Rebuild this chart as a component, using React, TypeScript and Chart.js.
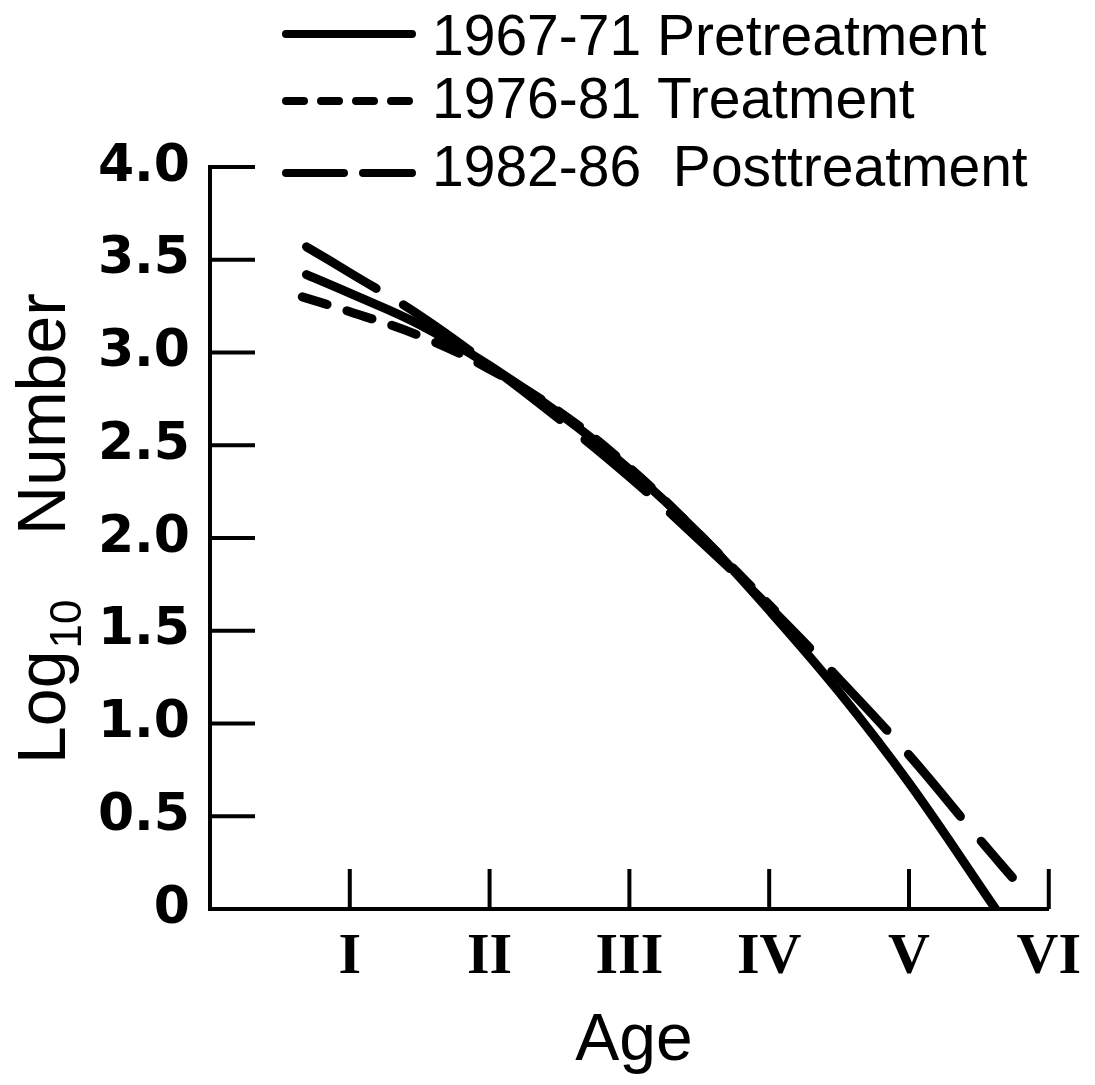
import React, { useEffect, useRef } from "react";
import { Chart, registerables } from "chart.js";

Chart.register(...registerables);

// Age (x) and log10 number (y)
const preAges = [0.69, 1.0, 1.5, 2.0, 2.5, 3.0, 3.5, 4.0, 4.5, 5.0, 5.62];
const preLog = [3.42, 3.32, 3.15, 2.93, 2.67, 2.37, 2.02, 1.61, 1.17, 0.68, 0.0];
const treatAges = [0.66, 1.0, 1.5, 2.0, 2.5, 3.0, 3.5, 4.04];
const treatLog = [3.3, 3.22, 3.09, 2.91, 2.68, 2.38, 2.02, 1.61];
const postAges = [0.69, 1.0, 1.5, 2.0, 2.5, 3.0, 3.5, 4.0, 4.5, 5.0, 5.5, 5.74];
const postLog = [3.57, 3.43, 3.2, 2.93, 2.64, 2.33, 1.99, 1.63, 1.24, 0.83, 0.38, 0.17];

const seriesLabels = ["1967-71 Pretreatment", "1976-81 Treatment", "1982-86  Posttreatment"];
const ageTicks = [1, 2, 3, 4, 5, 6];
const ageLabels = ["I", "II", "III", "IV", "V", "VI"];
const yTicks = [0, 0.5, 1.0, 1.5, 2.0, 2.5, 3.0, 3.5, 4.0];
const xTitle = "Age";
const yTitleMain = "Log";
const yTitleSub = "10";
const yTitleRest = "Number";

const toPoints = (xs: number[], ys: number[]) => xs.map((x, i) => ({ x, y: ys[i] }));

const chartDecor = {
  id: "chartDecor",
  afterDraw(chart: any) {
    const ctx = chart.ctx as CanvasRenderingContext2D;
    const area = chart.chartArea;
    const xs = chart.scales.x;
    const ys = chart.scales.y;
    ctx.save();
    ctx.strokeStyle = "#000";
    ctx.fillStyle = "#000";
    // inward ticks
    ctx.lineWidth = 4;
    ctx.lineCap = "butt";
    yTicks.forEach((v) => {
      if (v === 0) return;
      const py = ys.getPixelForValue(v);
      ctx.beginPath();
      ctx.moveTo(area.left, py);
      ctx.lineTo(area.left + 45, py);
      ctx.stroke();
    });
    ageTicks.forEach((v) => {
      const px = xs.getPixelForValue(v);
      ctx.beginPath();
      ctx.moveTo(px, area.bottom);
      ctx.lineTo(px, area.bottom - 40);
      ctx.stroke();
    });
    // legend
    const legY = [34, 101, 173];
    const legTextY = [39, 102, 170];
    const dashes = [[], [18, 17], [58, 19]];
    ctx.lineWidth = 8;
    ctx.lineCap = "round";
    seriesLabels.forEach((label, i) => {
      ctx.setLineDash(dashes[i]);
      ctx.beginPath();
      ctx.moveTo(286, legY[i]);
      ctx.lineTo(412, legY[i]);
      ctx.stroke();
      ctx.setLineDash([]);
      ctx.font = "57px 'Liberation Sans'";
      ctx.textAlign = "left";
      ctx.textBaseline = "middle";
      ctx.fillText(label, 432, legTextY[i]);
    });
    // x title
    ctx.font = "66px 'Liberation Sans'";
    ctx.textAlign = "center";
    ctx.textBaseline = "alphabetic";
    ctx.fillText(xTitle, 634, 1060);
    // y title (rotated)
    ctx.translate(65, 764);
    ctx.rotate(-Math.PI / 2);
    ctx.textAlign = "left";
    ctx.font = "68px 'Liberation Sans'";
    ctx.fillText(yTitleMain, 0, 0);
    const w = ctx.measureText(yTitleMain).width;
    ctx.font = "44px 'Liberation Sans'";
    ctx.fillText(yTitleSub, w + 2, 16);
    ctx.font = "68px 'Liberation Sans'";
    ctx.fillText(yTitleRest, 229, 0);
    ctx.restore();
  },
};

export default function App() {
  const canvasRef = useRef<HTMLCanvasElement | null>(null);

  useEffect(() => {
    const canvas = canvasRef.current;
    if (!canvas) return;
    const common = {
      borderColor: "#000",
      backgroundColor: "#000",
      borderWidth: 9,
      pointRadius: 0,
      borderCapStyle: "round" as const,
      borderJoinStyle: "round" as const,
      tension: 0.4,
      fill: false,
    };
    const chart = new Chart(canvas, {
      type: "line",
      data: {
        datasets: [
          { ...common, label: seriesLabels[0], data: toPoints(preAges, preLog) },
          { ...common, label: seriesLabels[1], data: toPoints(treatAges, treatLog), borderDash: [26, 21] },
          { ...common, label: seriesLabels[2], data: toPoints(postAges, postLog), borderDash: [81, 32] },
        ],
      },
      options: {
        responsive: false,
        animation: false,
        layout: { padding: { left: 0, right: 41, top: 167, bottom: 0 } },
        plugins: { legend: { display: false }, tooltip: { enabled: false } },
        scales: {
          x: {
            type: "linear",
            min: 0,
            max: 6,
            afterFit: (s: any) => {
              s.height = 176;
            },
            afterBuildTicks: (s: any) => {
              s.ticks = ageTicks.map((v) => ({ value: v }));
            },
            grid: { display: false, drawTicks: false },
            border: { display: true, color: "#000", width: 4 },
            ticks: {
              color: "#000",
              padding: 14,
              maxRotation: 0,
              autoSkip: false,
              font: { family: "'Liberation Serif'", size: 58, weight: "bold" },
              callback: (v: any) => ageLabels[ageTicks.indexOf(Number(v))] ?? "",
            },
          },
          y: {
            type: "linear",
            min: 0,
            max: 4,
            afterFit: (s: any) => {
              s.width = 210;
            },
            afterBuildTicks: (s: any) => {
              s.ticks = yTicks.map((v) => ({ value: v }));
            },
            grid: { display: false, drawTicks: false },
            border: { display: true, color: "#000", width: 4 },
            ticks: {
              color: "#000",
              padding: 20,
              autoSkip: false,
              font: { family: "'DejaVu Sans'", size: 52, weight: "bold" },
              callback: (v: any) => (Number(v) === 0 ? "0" : Number(v).toFixed(1)),
            },
          },
        },
      },
      plugins: [chartDecor],
    });
    return () => chart.destroy();
  }, []);

  return (
    <div style={{ position: "absolute", left: 0, top: 0, width: 1095, height: 1085, background: "#fff" }}>
      <canvas ref={canvasRef} width={1095} height={1085} style={{ display: "block" }} />
    </div>
  );
}
